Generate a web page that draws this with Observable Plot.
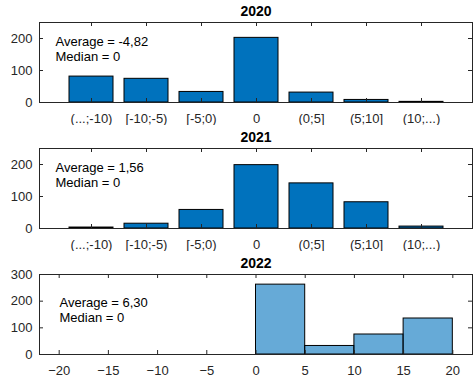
<!DOCTYPE html>
<html>
<head>
<meta charset="utf-8">
<script src="https://cdn.jsdelivr.net/npm/d3@7"></script>
<script src="https://cdn.jsdelivr.net/npm/@observablehq/plot@0.6"></script>
<style>
  body { margin: 0; background: #fff; }
  #chart { position: relative; width: 473px; height: 383px; background: #fff; }
  #chart svg { position: absolute; left: 0; }
</style>
</head>
<body>
<div id="chart"></div>
<script>
// Difference classes shown in the 2020 and 2021 panels
const categories = ["(...;-10)", "[-10;-5)", "[-5;0)", "0", "(0;5]", "(5;10]", "(10;...)"];
const counts2020 = [81, 74, 33, 202, 31, 8, 2];
const counts2021 = [3, 15, 58, 198, 141, 82, 6];

// 2022 histogram: bin edges and counts per bin
const binEdges2022 = [0, 5, 10, 15, 20];
const counts2022 = [262, 32, 75, 135];

// Panel titles and summary statistics
const years = ["2020", "2021", "2022"];
const averages = ["-4,82", "1,56", "6,30"];
const medians = ["0", "0", "0"];

// Axis ticks
const yTicksCat = [0, 100, 200];
const yTicksHist = [0, 100, 200, 300];
const xTicksHist = [-20, -15, -10, -5, 0, 5, 10, 15, 20];

const W = 473, H = 125;
const mt = 22, mb = 23, ml = 39, mr = 1;
const innerH = H - mt - mb;
const innerW = W - ml - mr;
const tickLen = 4;
const ink = "#262626";
const font = '"Liberation Sans", Arial, Helvetica, sans-serif';
const blue = "#0072BD";

// Inward ticks on all four sides of the axes box
function boxTicks(xTicks, yTicks) {
  return [
    Plot.tickX(xTicks, {x: d => d, insetTop: innerH - tickLen, stroke: ink}),
    Plot.tickX(xTicks, {x: d => d, insetBottom: innerH - tickLen, stroke: ink}),
    Plot.tickY(yTicks, {y: d => d, insetRight: innerW - tickLen, stroke: ink}),
    Plot.tickY(yTicks, {y: d => d, insetLeft: innerW - tickLen, stroke: ink})
  ];
}

function titleMark(i) {
  return Plot.text([years[i]], {
    frameAnchor: "top", dy: -10.5, lineAnchor: "middle",
    fontWeight: "bold", fontSize: 14, fill: "#000"
  });
}

function statsMark(i, dx, dy, lineHeight) {
  return Plot.text([`Average = ${averages[i]}\nMedian = ${medians[i]}`], {
    frameAnchor: "top-left", textAnchor: "start", lineAnchor: "top",
    dx, dy, lineHeight, fontSize: 13, fill: "#000"
  });
}

function categoryPanel(i, counts) {
  const table = categories.map((c, k) => ({category: c, count: counts[k]}));
  return Plot.plot({
    width: W, height: H,
    marginTop: mt, marginBottom: mb, marginLeft: ml, marginRight: mr,
    style: {fontFamily: font, fontSize: "13px", background: "transparent"},
    x: {type: "band", domain: categories, paddingInner: 0.2, paddingOuter: 0.493},
    y: {domain: [0, 250]},
    marks: [
      Plot.barY(table, {x: "category", y: "count", fill: blue, stroke: "#000", strokeWidth: 1}),
      Plot.frame({stroke: ink}),
      ...boxTicks(categories, yTicksCat),
      Plot.axisX({tickSize: 0, tickPadding: 11, label: null, fontSize: 13, color: ink}),
      Plot.axisY(yTicksCat, {tickSize: 0, tickPadding: 7, label: null, fontSize: 13, color: ink}),
      titleMark(i),
      statsMark(i, 16, 13, 1.15)
    ]
  });
}

function histogramPanel(i) {
  const table = counts2022.map((c, k) => ({lo: binEdges2022[k], hi: binEdges2022[k + 1], count: c}));
  return Plot.plot({
    width: W, height: H,
    marginTop: mt, marginBottom: mb, marginLeft: ml, marginRight: mr,
    style: {fontFamily: font, fontSize: "13px", background: "transparent"},
    x: {domain: [-22, 22]},
    y: {domain: [0, 300]},
    marks: [
      Plot.rectY(table, {x1: "lo", x2: "hi", y: "count", fill: blue, fillOpacity: 0.6, stroke: "#000", strokeWidth: 1}),
      Plot.frame({stroke: ink}),
      ...boxTicks(xTicksHist, yTicksHist),
      Plot.axisX(xTicksHist, {tickSize: 0, tickPadding: 11, label: null, fontSize: 13, color: ink}),
      Plot.axisY(yTicksHist, {tickSize: 0, tickPadding: 7, label: null, fontSize: 13, color: ink}),
      titleMark(i),
      statsMark(i, 20, 21.5, 1.15)
    ]
  });
}

const chart = document.getElementById("chart");
const panels = [
  [categoryPanel(0, counts2020), 0],
  [categoryPanel(1, counts2021), 125.5],
  [histogramPanel(2), 251.8]
];
for (const [svg, top] of panels) {
  svg.style.top = top + "px";
  chart.appendChild(svg);
}
</script>
</body>
</html>
